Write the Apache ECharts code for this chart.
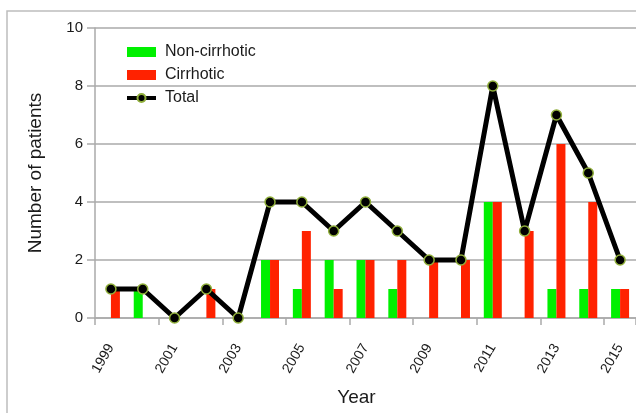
<!DOCTYPE html>
<html>
<head>
<meta charset="utf-8">
<script src="https://cdn.jsdelivr.net/npm/echarts@6/dist/echarts.min.js"></script>
<style>
  html, body { margin: 0; padding: 0; background: #fff; }
  #chart { width: 636px; height: 413px; }
</style>
</head>
<body>
<div id="chart"></div>
<script>
let years = ['1999', '2000', '2001', '2002', '2003', '2004', '2005', '2006', '2007',
    '2008', '2009', '2010', '2011', '2012', '2013', '2014', '2015'];
let nonCirrhotic = [0, 1, 0, 0, 0, 2, 1, 2, 2, 1, 0, 0, 4, 0, 1, 1, 1];
let cirrhotic = [1, 0, 0, 1, 0, 2, 3, 1, 2, 2, 2, 2, 4, 3, 6, 4, 1];
let total = [1, 1, 0, 1, 0, 4, 4, 3, 4, 3, 2, 2, 8, 3, 7, 5, 2];

let font = 'Liberation Sans, Arial, sans-serif';

let option = {
    animation: false,
    textStyle: { fontFamily: font },
    graphic: [
        {
            type: 'polyline',
            shape: { points: [[7, 420], [7, 11], [640, 11]] },
            style: { stroke: '#bdbdbd', lineWidth: 1.5, fill: null }
        }
    ],
    legend: {
        orient: 'vertical',
        left: 120,
        top: 39,
        itemWidth: 29,
        itemHeight: 10,
        itemGap: 7,
        textStyle: { fontSize: 16, color: '#1a1a1a', fontFamily: font, padding: [0, 0, 0, 4] },
        data: [
            { name: 'Non-cirrhotic', icon: 'rect' },
            { name: 'Cirrhotic', icon: 'rect' },
            { name: 'Total', lineStyle: { width: 4 } }
        ]
    },
    grid: {
        left: 95,
        top: 28,
        width: 542,
        height: 290,
        containLabel: false
    },
    xAxis: {
        type: 'category',
        data: years,
        name: 'Year',
        nameLocation: 'middle',
        nameGap: 70,
        nameTextStyle: { fontSize: 19, color: '#1a1a1a', padding: [0, 18, 0, 0] },
        axisLine: { lineStyle: { color: '#aaa', width: 1.5 } },
        axisTick: { show: true, length: 7, lineStyle: { color: '#aaa', width: 1.5 } },
        axisLabel: { interval: 1, rotate: 60, fontSize: 14, color: '#1a1a1a', margin: 27 }
    },
    yAxis: {
        type: 'value',
        min: 0,
        max: 10,
        interval: 2,
        name: 'Number of patients',
        nameLocation: 'middle',
        nameGap: 50,
        nameTextStyle: { fontSize: 19, color: '#1a1a1a' },
        axisLine: { show: true, lineStyle: { color: '#aaa', width: 1.5 } },
        axisTick: { show: true, length: 8, lineStyle: { color: '#aaa', width: 1.5 } },
        axisLabel: { fontSize: 15, color: '#1a1a1a', margin: 12 },
        splitLine: { lineStyle: { color: '#aaa', width: 1.5 } }
    },
    series: [
        {
            name: 'Non-cirrhotic',
            type: 'bar',
            data: nonCirrhotic,
            barWidth: 9,
            barGap: '0%',
            itemStyle: { color: '#00f000' }
        },
        {
            name: 'Cirrhotic',
            type: 'bar',
            data: cirrhotic,
            barWidth: 9,
            barGap: '0%',
            itemStyle: { color: '#ff2200' }
        },
        {
            name: 'Total',
            type: 'line',
            data: total,
            symbol: 'circle',
            symbolSize: 10,
            z: 5,
            lineStyle: { color: '#000', width: 5 },
            itemStyle: { color: '#000', borderColor: '#8fae3a', borderWidth: 1.5 }
        }
    ]
};

let chart = echarts.init(document.getElementById('chart'));
chart.setOption(option);
</script>
</body>
</html>
